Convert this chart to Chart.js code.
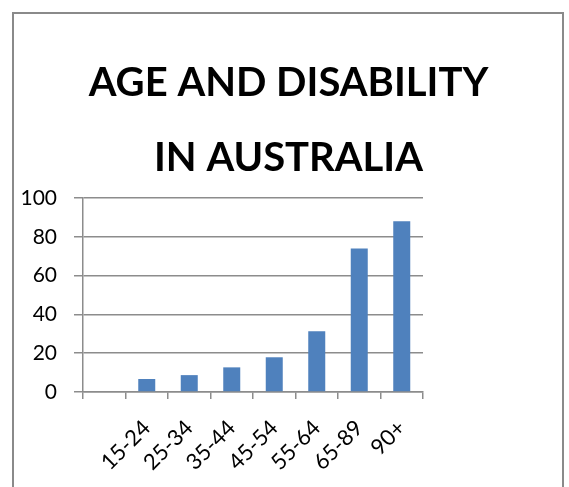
<!DOCTYPE html>
<html>
<head>
<meta charset="utf-8">
<script src="https://cdn.jsdelivr.net/npm/chart.js@4"></script>
<style>
  body { margin: 0; background: #fff; }
  #wrap { width: 569px; height: 487px; }
</style>
</head>
<body>
<div id="wrap"><canvas id="age-chart" width="569" height="487"></canvas></div>
<script>
const titleLines = ["AGE AND DISABILITY", "IN AUSTRALIA"];
const ageGroups = ["", "15-24", "25-34", "35-44", "45-54", "55-64", "65-89", "90+"];
const disabilityRate = [null, 6.7, 8.7, 12.7, 17.9, 31.3, 74, 88];
const yTicks = [0, 20, 40, 60, 80, 100];

const gridGrey = "#8c8c8c";
const fontFamily = "Lato, 'Open Sans', sans-serif";

// grey frame around the chart, open at the bottom
const framePlugin = {
  id: "frame",
  beforeDraw: (chart) => {
    const ctx = chart.ctx;
    ctx.save();
    ctx.strokeStyle = "#8a8a8a";
    ctx.lineWidth = 2;
    ctx.beginPath();
    ctx.moveTo(13, 487);
    ctx.lineTo(13, 13);
    ctx.lineTo(563, 13);
    ctx.lineTo(563, 487);
    ctx.stroke();
    ctx.restore();
  },
};

new Chart(document.getElementById("age-chart").getContext("2d"), {
  type: "bar",
  data: {
    labels: ageGroups,
    datasets: [
      {
        label: "Disability",
        data: disabilityRate,
        backgroundColor: "#4f81bd",
        borderWidth: 0,
        barPercentage: 0.4,
        categoryPercentage: 1,
      },
    ],
  },
  options: {
    responsive: false,
    animation: false,
    layout: {
      padding: { left: 8, right: 0, top: 0, bottom: 0 },
    },
    plugins: {
      legend: { display: false },
      tooltip: { enabled: false },
      title: {
        display: true,
        text: titleLines,
        color: "#000",
        font: { family: fontFamily, size: 40, weight: "bold", lineHeight: 1.875 },
        padding: { top: 46, bottom: 2 },
        align: "center",
      },
    },
    scales: {
      x: {
        offset: true,
        grid: {
          offset: true,
          drawOnChartArea: false,
          drawTicks: true,
          tickLength: 7,
          color: gridGrey,
          lineWidth: 1.5,
        },
        border: { color: gridGrey, width: 1.5 },
        ticks: {
          color: "#000",
          font: { family: fontFamily, size: 22 },
          minRotation: 45,
          maxRotation: 45,
          padding: 16,
          autoSkip: false,
        },
        afterFit: (scale) => {
          scale.height = 95;
        },
      },
      y: {
        min: 0,
        max: 100,
        afterBuildTicks: (scale) => {
          scale.ticks = yTicks.map((v) => ({ value: v }));
        },
        grid: {
          color: gridGrey,
          lineWidth: 1.5,
          tickLength: 9,
        },
        border: { color: gridGrey, width: 1.5 },
        ticks: {
          color: "#000",
          font: { family: fontFamily, size: 21 },
          padding: 17,
        },
        afterFit: (scale) => {
          scale.width = 75;
        },
      },
      // empty space on the right, keeps the plot narrow while the title centres on the frame
      spacer: {
        type: "linear",
        position: "right",
        display: true,
        grid: { display: false },
        border: { display: false },
        ticks: { display: false },
        afterFit: (scale) => {
          scale.width = 146;
        },
      },
    },
  },
  plugins: [framePlugin],
});
</script>
</body>
</html>
